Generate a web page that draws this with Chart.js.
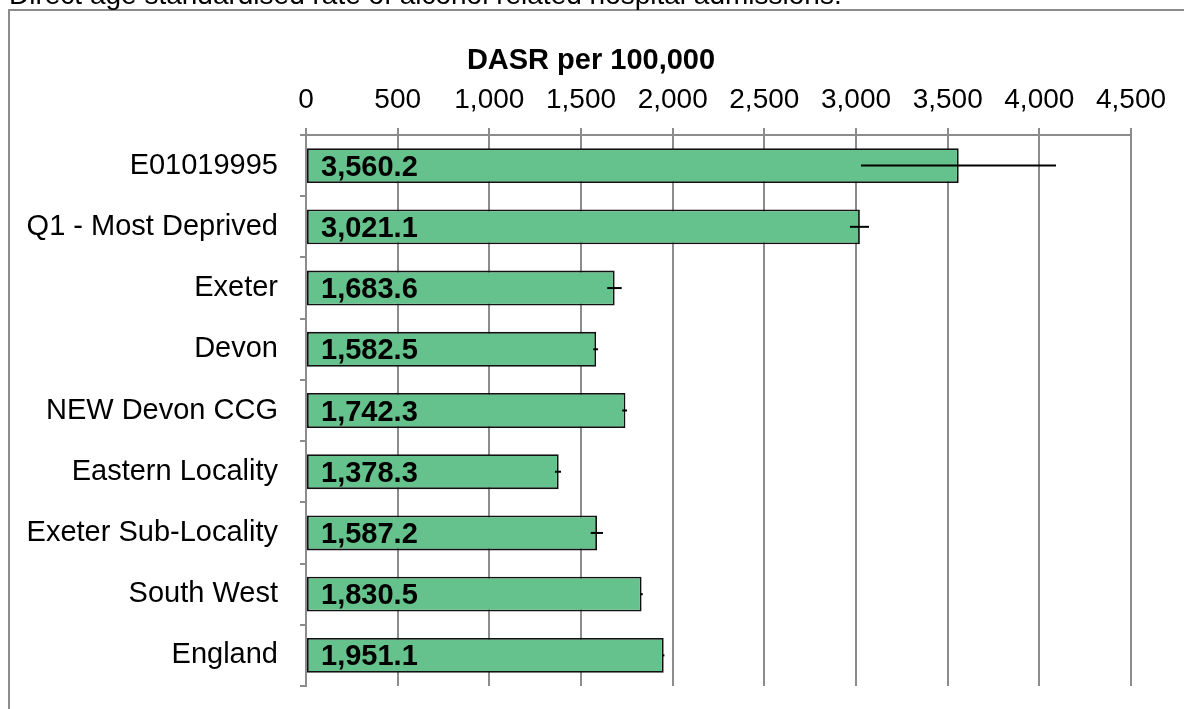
<!DOCTYPE html>
<html>
<head>
<meta charset="utf-8">
<script src="https://cdn.jsdelivr.net/npm/chart.js@4"></script>
<style>
  html, body { margin: 0; padding: 0; background: #fff; }
  #wrap { width: 1184px; height: 709px; position: relative; }
</style>
</head>
<body>
<div id="wrap"><canvas id="chart" width="1184" height="709"></canvas></div>
<script>
var areas = ['E01019995', 'Q1 - Most Deprived', 'Exeter', 'Devon', 'NEW Devon CCG',
             'Eastern Locality', 'Exeter Sub-Locality', 'South West', 'England'];
var dasr = [3560.2, 3021.1, 1683.6, 1582.5, 1742.3, 1378.3, 1587.2, 1830.5, 1951.1];
// 95% confidence interval
var lowerCI = [3027, 2967, 1643, 1567, 1725, 1358, 1553, 1824, 1947];
var upperCI = [4091, 3071, 1722, 1593, 1751, 1391, 1620, 1837, 1955];
var xTicks = [0, 500, 1000, 1500, 2000, 2500, 3000, 3500, 4000, 4500];
var axisTitle = 'DASR per 100,000';
var heading = 'Direct age standardised rate of alcohol related hospital admissions.';

var gridGrey = '#8c8c8c';
var font = 'Liberation Sans, Arial, sans-serif';

// outer frame, the clipped heading above it and the axis title
var framePlugin = {
    id: 'frame',
    beforeDraw: function (chart) {
        var ctx = chart.ctx;
        ctx.save();
        ctx.strokeStyle = gridGrey;
        ctx.lineWidth = 2;
        ctx.beginPath();
        ctx.moveTo(9, 720);
        ctx.lineTo(9, 10);
        ctx.lineTo(1190, 10);
        ctx.stroke();
        ctx.fillStyle = '#000';
        ctx.font = '28px ' + font;
        ctx.textBaseline = 'alphabetic';
        ctx.fillText(heading, 9, 4);
        ctx.font = 'bold 29px ' + font;
        ctx.textAlign = 'center';
        ctx.textBaseline = 'middle';
        ctx.fillText(axisTitle, 591, 61);
        ctx.restore();
    }
};

// confidence interval whiskers + value labels inside bars
var barExtras = {
    id: 'barExtras',
    afterDatasetsDraw: function (chart) {
        var ctx = chart.ctx;
        var x = chart.scales.x;
        var meta = chart.getDatasetMeta(0);
        ctx.save();
        ctx.strokeStyle = '#000';
        ctx.lineWidth = 2;
        meta.data.forEach(function (bar, i) {
            ctx.beginPath();
            ctx.moveTo(x.getPixelForValue(lowerCI[i]), bar.y);
            ctx.lineTo(x.getPixelForValue(upperCI[i]), bar.y);
            ctx.stroke();
        });
        ctx.fillStyle = '#000';
        ctx.font = 'bold 29px ' + font;
        ctx.textAlign = 'left';
        ctx.textBaseline = 'middle';
        meta.data.forEach(function (bar, i) {
            var txt = dasr[i].toLocaleString('en-GB', { minimumFractionDigits: 1, maximumFractionDigits: 1 });
            ctx.fillText(txt, x.getPixelForValue(0) + 15, bar.y + 2);
        });
        ctx.restore();
    }
};

new Chart(document.getElementById('chart'), {
    type: 'bar',
    data: {
        labels: areas,
        datasets: [{
            data: dasr,
            backgroundColor: '#66c28d',
            borderColor: '#111',
            borderWidth: 1.8,
            borderSkipped: false,
            barPercentage: 0.57,
            categoryPercentage: 1
        }]
    },
    options: {
        indexAxis: 'y',
        responsive: false,
        animation: false,
        layout: {
            padding: { left: 8, top: 77, right: 53, bottom: 23 }
        },
        plugins: {
            legend: { display: false },
            tooltip: { enabled: false },
            title: { display: false }
        },
        scales: {
            x: {
                position: 'top',
                min: 0,
                max: 4500,
                afterBuildTicks: function (scale) {
                    scale.ticks = xTicks.map(function (v) { return { value: v }; });
                },
                afterFit: function (scale) {
                    scale.height = 58;
                    scale.paddingLeft = 0;
                    scale.paddingRight = 0;
                },
                ticks: {
                    color: '#000',
                    padding: 11,
                    maxRotation: 0,
                    font: { family: font, size: 28 },
                    callback: function (v) { return v.toLocaleString('en-GB'); }
                },
                grid: {
                    color: gridGrey,
                    lineWidth: 2,
                    tickLength: 7
                },
                border: { color: gridGrey, width: 2 }
            },
            y: {
                afterFit: function (scale) {
                    scale.width = 298;
                    scale.paddingTop = 0;
                    scale.paddingBottom = 0;
                },
                ticks: {
                    color: '#000',
                    padding: 22,
                    font: { family: font, size: 29 }
                },
                grid: {
                    offset: true,
                    drawOnChartArea: false,
                    color: gridGrey,
                    lineWidth: 2,
                    tickLength: 6
                },
                border: { color: gridGrey, width: 2 }
            }
        }
    },
    plugins: [framePlugin, barExtras]
});
</script>
</body>
</html>
